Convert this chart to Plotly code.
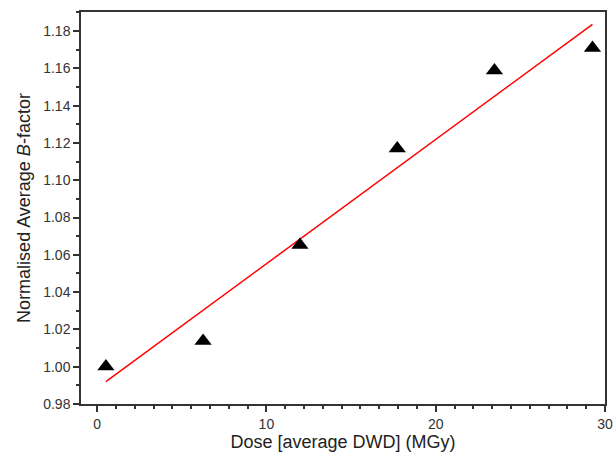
import numpy as np
import plotly.graph_objects as go

dose = [0.52, 6.26, 11.98, 17.73, 23.47, 29.26]
bfactor = [1.0001, 1.0138, 1.0653, 1.1170, 1.1588, 1.1709]

x_ticks = [0, 10, 20, 30]
y_ticks = [0.98, 1.00, 1.02, 1.04, 1.06, 1.08, 1.10, 1.12, 1.14, 1.16, 1.18]

slope, intercept = np.polyfit(dose, bfactor, 1)
fit_x = [dose[0], dose[-1]]
fit_y = [slope * v + intercept for v in fit_x]

fig = go.Figure()
fig.add_trace(go.Scatter(x=fit_x, y=fit_y, mode="lines",
                         line=dict(color="#ff0000", width=1.5), showlegend=False))
fig.add_trace(go.Scatter(x=dose, y=bfactor, mode="markers",
                         marker=dict(symbol="triangle-up", size=15, color="black"),
                         showlegend=False))

axis_common = dict(showgrid=False, zeroline=False, showline=True, linecolor="#333333",
                   linewidth=1.5, mirror=True, ticks="outside", tickcolor="#333333",
                   tickwidth=1.5, ticklen=6, automargin=False,
                   tickfont=dict(family="Liberation Sans, Arial", size=14, color="#333333"))

fig.update_xaxes(range=[-0.95, 30], tickvals=x_ticks,
                 minor=dict(dtick=10/9, tick0=0, ticks="outside", ticklen=3,
                            tickcolor="#333333", tickwidth=1.5),
                 title=dict(text="Dose [average DWD] (MGy)", standoff=2,
                            font=dict(family="Liberation Sans, Arial", size=18, color="#222222")),
                 **axis_common)
fig.update_yaxes(range=[0.98, 1.1902], tickvals=y_ticks, tickformat=".2f",
                 minor=dict(dtick=0.01, tick0=0.98, ticks="outside", ticklen=3,
                            tickcolor="#333333", tickwidth=1.5),
                 title=dict(text="Normalised Average <i>B</i>-factor", standoff=8,
                            font=dict(family="Liberation Sans, Arial", size=18, color="#222222")),
                 **axis_common)

fig.update_layout(width=615, height=454, margin=dict(l=81, r=10, t=12, b=50),
                  plot_bgcolor="white", paper_bgcolor="white")

fig.write_html("out.html", config={"displayModeBar": False},
               post_script="document.body.style.margin='0';document.body.style.overflow='hidden';")
